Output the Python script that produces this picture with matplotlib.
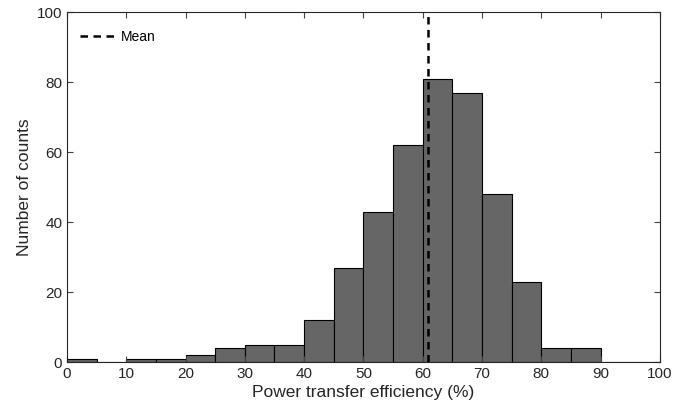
import numpy as np
import matplotlib
matplotlib.use("Agg")
import matplotlib.pyplot as plt

plt.rcParams.update({
    "font.family": ["Liberation Sans", "DejaVu Sans"],
    "font.size": 11,
})

# histogram bins (5 % wide) and counts
bin_edges = np.arange(0, 101, 5)
counts = [1, 0, 1, 1, 2, 4, 5, 5, 12, 27, 43, 62, 81, 77, 48, 23, 4, 4, 0, 0]
mean_eff = 60.9

fig = plt.figure(figsize=(6.88, 4.15), dpi=100)
ax = fig.add_axes([0.0974, 0.1277, 0.8616, 0.8433])

ax.bar(bin_edges[:-1], counts, width=5, align="edge",
       color="#666666", edgecolor="black", linewidth=0.8)
ax.axvline(mean_eff, color="black", linestyle="--", linewidth=1.8,
           dashes=(3, 2.2), label="Mean")

ax.set_xlim(0, 100)
ax.set_ylim(0, 100)
ax.set_xticks(np.arange(0, 101, 10))
ax.set_yticks(np.arange(0, 101, 20))
ax.tick_params(direction="in", top=True, right=True, labelsize=11,
               length=4, color="#444444", labelcolor="#262626")
for s in ax.spines.values():
    s.set_color("#262626")
    s.set_linewidth(0.8)

ax.set_xlabel("Power transfer efficiency (%)", fontsize=12.5, color="#262626",
              labelpad=3)
ax.set_ylabel("Number of counts", fontsize=12.5, color="#262626", labelpad=3)

ax.legend(loc="upper left", frameon=False, fontsize=10,
          handlelength=2.8, handletextpad=0.15, borderaxespad=0.9,
          bbox_to_anchor=(-0.008, 1.0))

fig.savefig("out.png", dpi=100)
